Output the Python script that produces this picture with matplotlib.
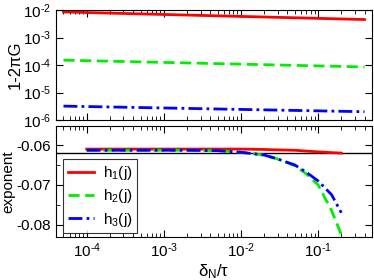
import numpy as np
import matplotlib
matplotlib.use("Agg")
from matplotlib import pyplot as plt
from matplotlib.ticker import LogLocator, MultipleLocator, NullFormatter, FuncFormatter

plt.rcParams['font.family'] = ['Liberation Sans', 'DejaVu Sans']
plt.rcParams['mathtext.fontset'] = 'custom'
plt.rcParams['mathtext.rm'] = 'Liberation Sans'
plt.rcParams['mathtext.it'] = 'Liberation Sans:italic'

# top panel: 1-2piG vs delta_N/tau
x_top = [5e-5, 4e-1]
g1 = [8.5e-3, 4.5e-3]
g2 = [1.5e-4, 8.5e-5]
g3 = [3.2e-6, 2.0e-6]

# bottom panel: exponent
x_bot = [1e-4, 2e-4, 5e-4, 1e-3, 2e-3, 5e-3, 1e-2, 2e-2, 3e-2, 5e-2, 7e-2, 1e-1, 1.5e-1, 2e-1]
e1 = [-0.0610, -0.0610, -0.0610, -0.0610, -0.0610, -0.0610, -0.0610, -0.0611,
      -0.0612, -0.0613, -0.0615, -0.0617, -0.0619, -0.0620]
e2 = [-0.0613, -0.0613, -0.0613, -0.0613, -0.0613, -0.0614, -0.0618, -0.0625,
      -0.0635, -0.0652, -0.0672, -0.0700, -0.0765, -0.0825]
e3 = [-0.0613, -0.0613, -0.0613, -0.0613, -0.0613, -0.0614, -0.0618, -0.0625,
      -0.0635, -0.0650, -0.0668, -0.0690, -0.0725, -0.0770]
e_ref = -0.0621

red = '#ff0000'
green = '#00ee00'
blue = '#0000ff'


def pow10(v, pos):
    return '10$^{\\text{%d}}$' % int(round(np.log10(v))) if v > 0 else ''


fig = plt.figure(figsize=(3.74, 2.80), dpi=100)
ax1 = fig.add_axes([56/374, 1-120/280, 316/374, 110/280])
ax2 = fig.add_axes([56/374, 1-237/280, 316/374, 111/280])

ax1.plot(x_top, g1, color=red, lw=2)
ax1.plot(x_top, g2, color=green, lw=2, ls=(0, (4, 2)))
ax1.plot(x_top, g3, color=blue, lw=2, ls=(0, (5, 1.5, 1, 1.5)))
ax1.set_xscale('log')
ax1.set_yscale('log')
ax1.set_xlim(4e-5, 0.5)
ax1.set_ylim(1e-6, 1e-2)
ax1.set_ylabel('1-2πG', fontsize=12)
ax1.yaxis.set_label_coords(-0.104, 0.5)
ax1.xaxis.set_major_formatter(NullFormatter())
ax1.yaxis.set_major_locator(LogLocator(base=10, numticks=20))
ax1.yaxis.set_major_formatter(FuncFormatter(pow10))
ax1.yaxis.set_minor_locator(LogLocator(base=10, subs=[]))

ax2.axhline(e_ref, color='black', lw=1)
ax2.plot(x_bot, e1, color=red, lw=2, label=r'h$_1$(j)')
ax2.plot(x_bot, e2, color=green, lw=2, ls=(0, (4, 2)), label=r'h$_2$(j)')
ax2.plot(x_bot, e3, color=blue, lw=2, ls=(0, (5, 1.5, 1, 1.5)), label=r'h$_3$(j)')
ax2.set_xscale('log')
ax2.set_xlim(4e-5, 0.5)
ax2.set_ylim(-0.0831, -0.0552)
ax2.xaxis.set_major_formatter(FuncFormatter(pow10))
ax2.yaxis.set_major_locator(MultipleLocator(0.01))
ax2.yaxis.set_minor_locator(MultipleLocator(0.005))
ax2.yaxis.set_major_formatter(FuncFormatter(lambda v, p: '%.2f' % v))
ax2.set_ylabel('exponent', fontsize=11)
ax2.yaxis.set_label_coords(-0.128, 0.5)
ax2.set_xlabel('δ$_\\mathrm{N}$/τ', fontsize=12, labelpad=1)
leg = ax2.legend(loc='upper left', bbox_to_anchor=(0.022, 0.70), fontsize=11,
                 frameon=True, fancybox=False, edgecolor='black',
                 handlelength=1.7, handletextpad=0.6, borderpad=0.3,
                 labelspacing=0.35, borderaxespad=0)
leg.get_frame().set_linewidth(0.8)

for ax in (ax1, ax2):
    ax.tick_params(which='both', direction='in', top=True, right=True, labelsize=11)
    ax.tick_params(which='major', length=5)
    ax.tick_params(which='minor', length=3)
    ax.xaxis.set_minor_locator(LogLocator(base=10, subs=np.arange(2, 10)))
    ax.xaxis.set_minor_formatter(NullFormatter())

fig.savefig('out.png', dpi=100)
